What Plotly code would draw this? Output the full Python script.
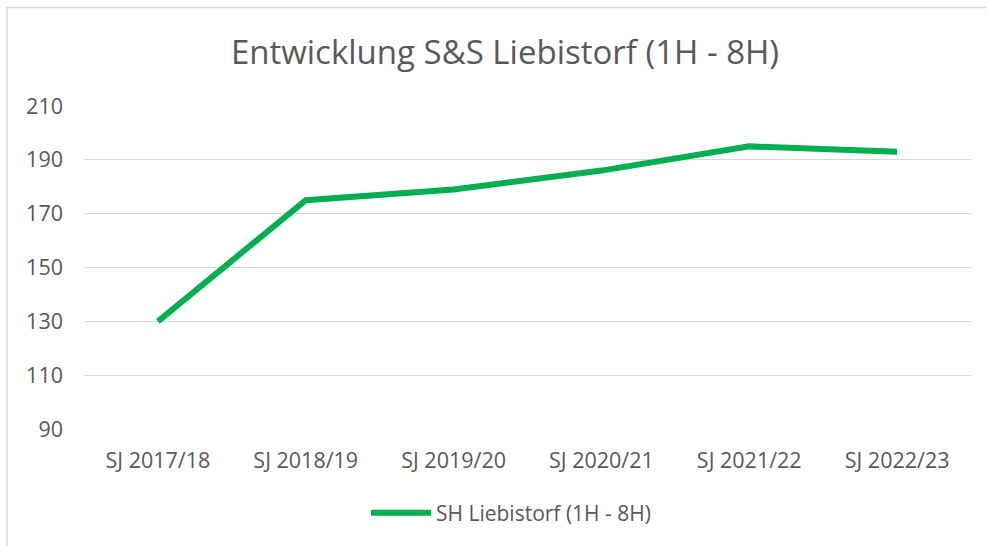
import plotly.graph_objects as go

categories = ["SJ 2017/18", "SJ 2018/19", "SJ 2019/20", "SJ 2020/21", "SJ 2021/22", "SJ 2022/23"]
values = [130, 175, 179, 186, 195, 193]
series_name = "SH Liebistorf (1H - 8H)"
y_ticks = [90, 110, 130, 150, 170, 190, 210]

W, H = 987, 546
ML, MR, MT, MB = 84, 16, 106, 117
PW = W - ML - MR
PH = H - MT - MB

FONT = "Open Sans"
TXT = "#595959"
GRID = "#d9d9d9"

fig = go.Figure()
fig.add_trace(go.Scatter(
    x=categories, y=values, mode="lines", name=series_name,
    line=dict(color="#00B050", width=6),
))

def px_x(p):
    return (p - ML) / PW

def px_y(p):
    return (H - MB - p) / PH

fig.update_layout(
    width=W, height=H,
    margin=dict(l=ML, r=MR, t=MT, b=MB),
    paper_bgcolor="white", plot_bgcolor="white",
    font=dict(family=FONT, color=TXT, size=21),
    title=dict(text="Entwicklung S&S Liebistorf (1H - 8H)",
               x=505 / W, xanchor="center", y=1 - 52 / H, yanchor="middle",
               font=dict(family=FONT, size=33, color=TXT)),
    showlegend=True,
    legend=dict(orientation="h", x=px_x(366), xanchor="left",
                y=px_y(513), yanchor="middle",
                font=dict(family=FONT, size=21, color=TXT),
                itemwidth=60, bgcolor="rgba(0,0,0,0)"),
    xaxis=dict(type="category", showgrid=False, showline=False, zeroline=False,
               ticks="", tickfont=dict(family=FONT, size=21.5, color=TXT),
               ticklabelstandoff=16, range=[-0.5, len(categories) - 0.5]),
    yaxis=dict(range=[90, 210], tickvals=y_ticks, showgrid=True, gridcolor=GRID,
               gridwidth=1.3, zeroline=False, showline=False, ticks="",
               tickfont=dict(family=FONT, size=21.5, color=TXT),
               ticklabelstandoff=20),
    shapes=[dict(type="rect", xref="paper", yref="paper",
                 x0=px_x(7), x1=px_x(1000), y0=px_y(560), y1=px_y(7.5),
                 line=dict(color=GRID, width=1.5), fillcolor="rgba(0,0,0,0)",
                 layer="below")],
)

fig.write_html("out.html", config={"displayModeBar": False},
               post_script="document.body.style.margin='0';document.body.style.overflow='hidden';")
